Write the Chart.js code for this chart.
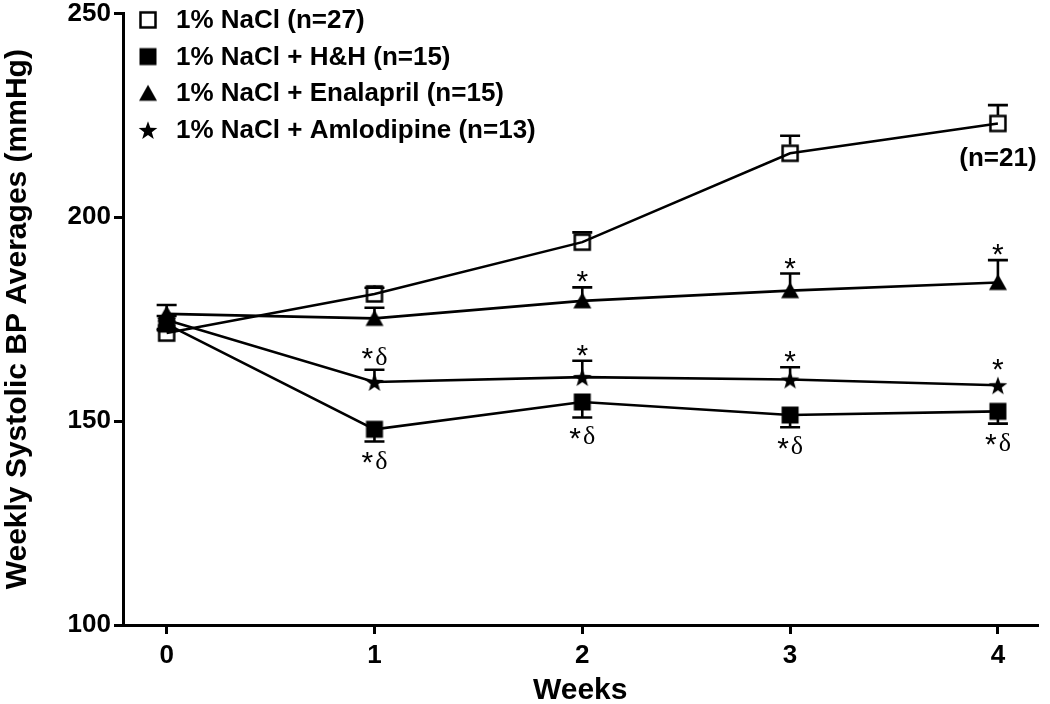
<!DOCTYPE html>
<html><head><meta charset="utf-8">
<script src="https://cdn.jsdelivr.net/npm/chart.js@4.4.1/dist/chart.umd.min.js"></script>
<style>html,body{margin:0;padding:0;background:#fff;}</style>
</head><body>
<canvas id="c" width="1050" height="704"></canvas>
<script>
// ---- data ----
const weeks = [0, 1, 2, 3, 4];
const yTickValues = [100, 150, 200, 250];
const seriesNames = ['1% NaCl (n=27)', '1% NaCl + H&H (n=15)', '1% NaCl + Enalapril (n=15)', '1% NaCl + Amlodipine (n=13)'];
const naclVals = [171.6, 181.2, 193.9, 215.7, 223.0];
const naclErr  = [1.0, 1.5, 2.4, 4.3, 4.5];
const hhVals   = [173.8, 148.0, 154.7, 151.5, 152.4];
const hhErr    = [1.5, 3.0, 3.8, 3.0, 3.0];
const enalVals = [176.3, 175.2, 179.5, 182.0, 184.0];
const enalErr  = [2.2, 2.6, 3.3, 4.2, 5.5];
const amlVals  = [174.8, 159.6, 160.8, 160.2, 158.8];
const amlErr   = [1.0, 3.0, 4.0, 3.0, 0];
// significance marks: series index, week, text, side
const marks = [
  {s: 2, w: 2, t: '*', side: 'above'}, {s: 2, w: 3, t: '*', side: 'above'}, {s: 2, w: 4, t: '*', side: 'above'},
  {s: 3, w: 1, t: '*\u03B4', side: 'above'}, {s: 3, w: 2, t: '*', side: 'above'}, {s: 3, w: 3, t: '*', side: 'above'}, {s: 3, w: 4, t: '*', side: 'above'},
  {s: 1, w: 1, t: '*\u03B4', side: 'below'}, {s: 1, w: 2, t: '*\u03B4', side: 'below'}, {s: 1, w: 3, t: '*\u03B4', side: 'below'}, {s: 1, w: 4, t: '*\u03B4', side: 'below'}
];
const nNote = {s: 0, w: 4, t: '(n=21)'};

// ---- marker images ----
function mk(draw) { const c = document.createElement('canvas'); c.width = 22; c.height = 22; const g = c.getContext('2d'); g.fillStyle = '#000'; g.strokeStyle = '#000'; draw(g); return c; }
const mOpenSq = mk(g => { g.lineWidth = 2.5; g.strokeRect(3.5, 3.5, 15, 15); });
const mFillSq = mk(g => { g.fillRect(2.5, 2.5, 17, 17); });
const mTri = mk(g => { g.beginPath(); g.moveTo(11, 2.5); g.lineTo(20, 18.5); g.lineTo(2, 18.5); g.closePath(); g.fill(); });
const mStar = mk(g => { g.beginPath(); for (let k = 0; k < 10; k++) { const r = k % 2 ? 4.0 : 9.8; const a = -Math.PI / 2 + k * Math.PI / 5; const px = 11 + r * Math.cos(a), py = 12 + r * Math.sin(a); k ? g.lineTo(px, py) : g.moveTo(px, py); } g.closePath(); g.fill(); });
const markers = [mOpenSq, mFillSq, mTri, mStar];

const valsList = [naclVals, hhVals, enalVals, amlVals];
const errList = [naclErr, hhErr, enalErr, amlErr];
const errDirs = [1, -1, 1, 1];
const stemGaps = [8.5, 0, 0, 0];

const datasets = valsList.map((vals, i) => ({
  label: seriesNames[i],
  data: weeks.map((w, j) => ({x: w, y: vals[j]})),
  errors: errList[i], errDir: errDirs[i], stemGap: stemGaps[i],
  borderColor: '#000', borderWidth: 2.6, tension: 0, fill: false,
  pointStyle: markers[i], pointRadius: 10, pointHoverRadius: 10,
  pointBackgroundColor: '#000', pointBorderColor: '#000'
}));

const errPlugin = {
  id: 'errbars',
  beforeDatasetsDraw(chart) {
    const {ctx, scales: {x, y}} = chart;
    ctx.save(); ctx.strokeStyle = '#000'; ctx.lineWidth = 2.6;
    chart.data.datasets.forEach(ds => {
      ds.data.forEach((p, i) => {
        const e = ds.errors[i]; if (!e) return;
        const px = x.getPixelForValue(p.x), py = y.getPixelForValue(p.y);
        const ey = y.getPixelForValue(p.y + ds.errDir * e);
        const start = py + (ey < py ? -ds.stemGap : ds.stemGap);
        ctx.beginPath(); ctx.moveTo(px, start); ctx.lineTo(px, ey);
        ctx.moveTo(px - 10, ey); ctx.lineTo(px + 10, ey); ctx.stroke();
      });
    });
    ctx.restore();
  }
};

const FONT_AST = '30px "Liberation Sans"';
const FONT_DELTA = '26px "Liberation Serif"';
function drawMark(ctx, text, cx, edge, side) {
  const parts = [];
  for (const ch of text) parts.push({ch, font: ch === '*' ? FONT_AST : FONT_DELTA});
  const gap = 2;
  let total = 0, H = 0;
  parts.forEach(p => { ctx.font = p.font; const m = ctx.measureText(p.ch); p.w = m.width; p.a = m.actualBoundingBoxAscent; p.d = m.actualBoundingBoxDescent; total += p.w; H = Math.max(H, p.a + p.d); });
  total += gap * (parts.length - 1);
  const top = side === 'above' ? edge - 5 - H : edge + 9;
  const center = top + H / 2;
  let xx = cx - total / 2;
  ctx.textAlign = 'left'; ctx.textBaseline = 'alphabetic';
  parts.forEach(p => {
    ctx.font = p.font;
    const c = (p.ch === '*' && parts.length > 1) ? center - 2 : center;
    const baseline = c + (p.a - p.d) / 2;
    ctx.fillText(p.ch, xx, baseline); xx += p.w + gap;
  });
}

const markPlugin = {
  id: 'marks',
  afterDatasetsDraw(chart) {
    const {ctx, scales: {x, y}} = chart;
    const ds = chart.data.datasets;
    ctx.save(); ctx.fillStyle = '#000';
    marks.forEach(m => {
      const d = ds[m.s]; const j = weeks.indexOf(m.w);
      const v = d.data[j].y, e = d.errors[j];
      const px = x.getPixelForValue(m.w), py = y.getPixelForValue(v);
      const cap = y.getPixelForValue(v + d.errDir * e);
      const edge = m.side === 'above' ? Math.min(cap, py - 10) : Math.max(cap, py + 10);
      drawMark(ctx, m.t, px, edge, m.side);
    });
    ctx.font = 'bold 26px "Liberation Sans"'; ctx.textAlign = 'center'; ctx.textBaseline = 'middle';
    const d0 = ds[nNote.s]; const j0 = weeks.indexOf(nNote.w);
    ctx.fillText(nNote.t, x.getPixelForValue(nNote.w), y.getPixelForValue(d0.data[j0].y) + 35);
    ctx.restore();
  }
};

const legendPlugin = {
  id: 'mylegend',
  afterDraw(chart) {
    const {ctx, chartArea} = chart;
    ctx.save(); ctx.fillStyle = '#000'; ctx.textAlign = 'left'; ctx.textBaseline = 'middle';
    ctx.font = 'bold 26px "Liberation Sans"';
    seriesNames.forEach((name, i) => {
      const cy = chartArea.top + 6.5 + i * 36.7;
      ctx.drawImage(markers[i], 148 - 11, cy - 11);
      ctx.fillText(name, 176, cy + 1);
    });
    ctx.restore();
  }
};

Chart.defaults.font.family = '"Liberation Sans", Arial, sans-serif';
Chart.defaults.color = '#000';

new Chart(document.getElementById('c'), {
  type: 'line',
  data: {datasets},
  options: {
    responsive: false, animation: false,
    layout: {padding: {top: 12, right: 5, left: 0, bottom: 0}},
    plugins: {legend: {display: false}, tooltip: {enabled: false}},
    scales: {
      x: {
        type: 'linear', min: -0.21, max: 4.19,
        afterBuildTicks: s => { s.ticks = weeks.map(v => ({value: v})); },
        afterFit: s => { s.height = 79; },
        border: {display: true, width: 3, color: '#000'},
        grid: {drawOnChartArea: false, drawTicks: true, tickLength: 9, tickWidth: 3, tickColor: '#000', color: '#000', lineWidth: 3},
        ticks: {font: {size: 26, weight: 'bold'}, padding: 6, color: '#000'},
        title: {display: true, text: 'Weeks', font: {size: 30, weight: 'bold'}, padding: {top: 0, bottom: -5}, color: '#000'}
      },
      y: {
        min: 100, max: 250,
        afterBuildTicks: s => { s.ticks = yTickValues.map(v => ({value: v})); },
        afterFit: s => { s.width = 123; },
        border: {display: true, width: 3, color: '#000'},
        grid: {drawOnChartArea: false, drawTicks: true, tickLength: 9, tickWidth: 3, tickColor: '#000', color: '#000', lineWidth: 3},
        ticks: {font: {size: 26, weight: 'bold', lineHeight: 0.8}, padding: 3, color: '#000'},
        title: {display: true, text: 'Weekly Systolic BP Averages (mmHg)', font: {size: 30, weight: 'bold'}, padding: {top: 0, bottom: 0}, color: '#000'}
      }
    }
  },
  plugins: [errPlugin, markPlugin, legendPlugin]
});
</script>
</body></html>
